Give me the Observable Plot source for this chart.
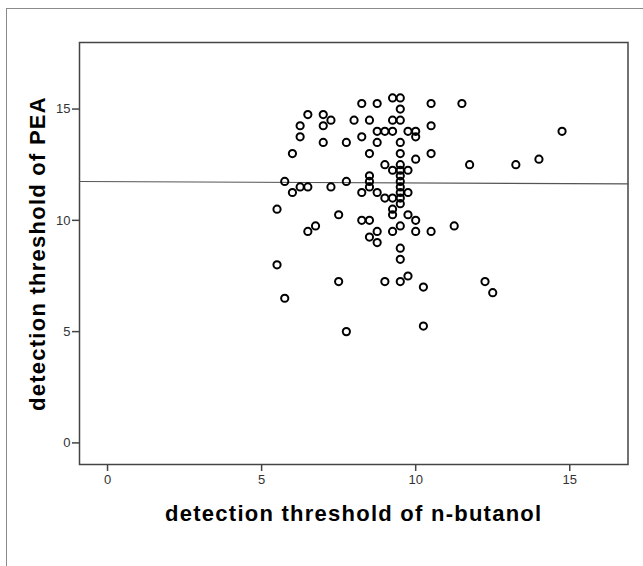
<!DOCTYPE html>
<html><head><meta charset="utf-8">
<script src="https://cdn.jsdelivr.net/npm/d3@7"></script>
<script src="https://cdn.jsdelivr.net/npm/@observablehq/plot@0.6"></script>
<style>
html,body{margin:0;padding:0;background:#fff;}
#wrap{position:relative;width:643px;height:566px;overflow:hidden;background:#fff;}
#outer{position:absolute;left:6px;top:8px;width:700px;height:700px;border-left:1.5px solid #8a8a8a;border-top:1.5px solid #8a8a8a;}
#chart{position:absolute;left:0;top:0;}
.ttl text{letter-spacing:1.25px;}
#chart g[aria-label="x-axis tick label"], #chart g[aria-label="y-axis tick label"],
#chart g[aria-label="x-axis tick label"] text, #chart g[aria-label="y-axis tick label"] text{font-size:13px !important;}
</style></head><body><div id="wrap"><div id="outer"></div><div id="chart"></div></div>
<script>
// detection threshold of n-butanol (x) and of PEA (y), one entry per subject
const butanol = [
  5.5, 5.5,
  5.75, 5.75,
  6.0, 6.0,
  6.25, 6.25, 6.25,
  6.5, 6.5, 6.5,
  6.75,
  7.0, 7.0, 7.0,
  7.25, 7.25,
  7.5, 7.5,
  7.75, 7.75, 7.75,
  8.0,
  8.25, 8.25, 8.25, 8.25,
  8.5, 8.5, 8.5, 8.5, 8.5, 8.5, 8.5,
  8.75, 8.75, 8.75, 8.75, 8.75, 8.75,
  9.0, 9.0, 9.0, 9.0,
  9.25, 9.25, 9.25, 9.25, 9.25, 9.25, 9.25, 9.25,
  9.5, 9.5, 9.5, 9.5, 9.5, 9.5, 9.5, 9.5, 9.5, 9.5, 9.5, 9.5, 9.5, 9.5, 9.5, 9.5, 9.5,
  9.75, 9.75, 9.75, 9.75, 9.75,
  10.0, 10.0, 10.0, 10.0, 10.0,
  10.25, 10.25,
  10.5, 10.5, 10.5, 10.5,
  11.25, 11.5, 11.75, 12.25, 12.5, 13.25, 14.0, 14.75
];
const pea = [
  10.5, 8.0,
  11.75, 6.5,
  13.0, 11.25,
  14.25, 13.75, 11.5,
  14.75, 11.5, 9.5,
  9.75,
  14.75, 14.25, 13.5,
  14.5, 11.5,
  10.25, 7.25,
  13.5, 11.75, 5.0,
  14.5,
  15.25, 13.75, 11.25, 10.0,
  14.5, 13.0, 12.0, 11.75, 11.5, 10.0, 9.25,
  15.25, 14.0, 13.5, 11.25, 9.5, 9.0,
  14.0, 12.5, 11.0, 7.25,
  15.5, 14.5, 14.0, 12.25, 11.0, 10.5, 10.25, 9.5,
  15.5, 15.0, 14.5, 13.5, 13.0, 12.5, 12.25, 12.0, 11.75, 11.5, 11.25, 11.0, 10.75, 9.75, 8.75, 8.25, 7.25,
  14.0, 12.25, 11.25, 10.25, 7.5,
  14.0, 13.75, 12.75, 10.0, 9.5,
  7.0, 5.25,
  15.25, 14.25, 13.0, 9.5,
  9.75, 15.25, 12.5, 7.25, 6.75, 12.5, 12.75, 14.0
];
const xTicks = [0, 5, 10, 15];
const yTicks = [0, 5, 10, 15];
const xDomain = [-0.91, 16.89];
const yDomain = [-0.97, 17.99];
const fitIntercept = 11.74;
const fitSlope = -0.0062;
const xTitle = "detection threshold of n-butanol";
const yTitle = "detection threshold of PEA";

const points = butanol.map((x, i) => ({x, y: pea[i]}));
const fit = xDomain.map(x => ({x, y: fitIntercept + fitSlope * x}));

const chart = Plot.plot({
  width: 643, height: 566,
  marginLeft: 79, marginRight: 15.5, marginTop: 42, marginBottom: 102,
  style: {fontFamily: "'Liberation Sans', Arial, sans-serif", fontSize: "13px", color: "#333", background: "transparent"},
  x: {domain: xDomain},
  y: {domain: yDomain},
  marks: [
    Plot.axisX({ticks: xTicks, tickSize: 7, tickPadding: 3, label: null, stroke: "#444", strokeWidth: 1.5, fill: "#333"}),
    Plot.axisY({ticks: yTicks, tickSize: 7, tickPadding: 2, label: null, stroke: "#444", strokeWidth: 1.5, fill: "#333"}),
    Plot.frame({stroke: "#444", strokeWidth: 1.5}),
    Plot.line(fit, {x: "x", y: "y", stroke: "#555", strokeWidth: 1.2}),
    Plot.dot(points, {x: "x", y: "y", r: 3.6, stroke: "#000", strokeWidth: 2, fill: "none"}),
    Plot.text([xTitle], {text: d => d, frameAnchor: "bottom", dy: 49, lineAnchor: "middle", textAnchor: "middle", fontSize: 22, fontWeight: "bold", fill: "#000", className: "ttl"}),
    Plot.text([yTitle], {text: d => d, frameAnchor: "left", dx: -42, rotate: -90, lineAnchor: "middle", textAnchor: "middle", fontSize: 22, fontWeight: "bold", fill: "#000", className: "ttl"})
  ]
});
document.getElementById("chart").appendChild(chart);
</script></body></html>
